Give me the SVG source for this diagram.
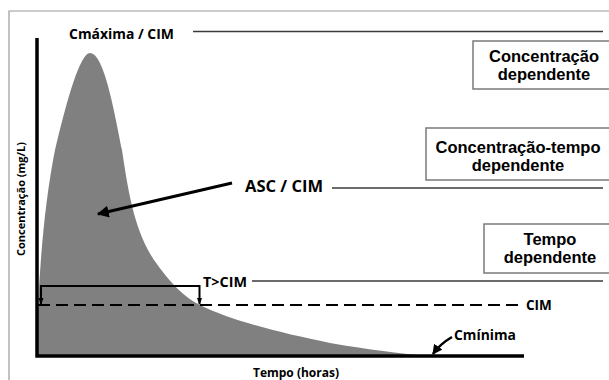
<svg xmlns="http://www.w3.org/2000/svg" width="609" height="380" viewBox="0 0 609 380">
<defs>
<style>
.lbl{font-family:"Open Sans","Liberation Sans",sans-serif;font-weight:700;fill:#000}
.box rect{fill:#fff;stroke:#7a7a7a;stroke-width:1.5}
.box text{font-family:"Liberation Sans",Arial,sans-serif;font-weight:700;font-size:16.5px;fill:#000;text-anchor:middle}
.ref{stroke:#3a3a3a;stroke-width:1.3;fill:none}
.axis{stroke:#000;stroke-width:3.5;fill:none}
</style>
<marker id="ah" viewBox="0 0 10 10" refX="9" refY="5" markerWidth="4" markerHeight="4" orient="auto" markerUnits="strokeWidth">
<path d="M0,0 L10,5 L0,10 Z" fill="#000"/>
</marker>
</defs>
<rect width="609" height="380" fill="#fff"/>
<g id="frame">
<path d="M9,390 L9,11 L620,11" fill="none" stroke="#9a9a9a" stroke-width="1.2"/>
</g>
<g id="curve">
<path d="M37,356 L38,310 C40,260 45,200 55,150 C67,100 80,53 90,53 C104,53 114,110 122,150 C128,190 134,230 154,260 C170,283 185,298 200,305 C230,320 280,333 330,343 C370,350 400,353 425,356 Z" fill="#808080"/>
</g>
<g id="axes">
<path class="axis" d="M37,38 L37,356 L524,356"/>
<text class="lbl" font-size="11" transform="translate(25,199) rotate(-90)" text-anchor="middle">Concentração (mg/L)</text>
<text class="lbl" font-size="12" x="296" y="377" text-anchor="middle">Tempo (horas)</text>
</g>
<g id="cim-line">
<line x1="38" y1="305" x2="522" y2="305" stroke="#000" stroke-width="2" stroke-dasharray="12,6"/>
<text class="lbl" font-size="13.5" x="526" y="310">CIM</text>
</g>
<g id="labels">
<text class="lbl" font-size="13.5" x="69" y="39" textLength="105" lengthAdjust="spacingAndGlyphs">Cmáxima / CIM</text>
<text class="lbl" font-size="16.5" x="245" y="192" textLength="78" lengthAdjust="spacingAndGlyphs">ASC / CIM</text>
<text class="lbl" font-size="14" x="203" y="287" textLength="44" lengthAdjust="spacingAndGlyphs">T&gt;CIM</text>
<text class="lbl" font-size="14" x="454" y="340" textLength="62" lengthAdjust="spacingAndGlyphs">Cmínima</text>
</g>
<g id="box-concentracao" class="box">
<rect x="473" y="41" width="150" height="48"/>
<text x="544" y="62">Concentração</text>
<text x="544" y="80">dependente</text>
</g>
<g id="box-concentracao-tempo" class="box">
<rect x="426" y="128" width="190" height="52"/>
<text x="518" y="153">Concentração-tempo</text>
<text x="518" y="171">dependente</text>
</g>
<g id="box-tempo" class="box">
<rect x="484" y="224" width="140" height="49"/>
<text x="550" y="245">Tempo</text>
<text x="550" y="263">dependente</text>
</g>
<g id="connectors">
<line class="ref" x1="193" y1="31.5" x2="603" y2="31.5"/>
<line class="ref" x1="332" y1="188" x2="603" y2="188"/>
<line class="ref" x1="252" y1="281" x2="603" y2="281"/>
<line x1="232" y1="183" x2="98" y2="214" stroke="#000" stroke-width="3" marker-end="url(#ah)"/>
<path d="M41,304 L41,286 L199.5,286 L199.5,304" fill="none" stroke="#000" stroke-width="2"/>
<path d="M38.5,298 L43.5,298 L41,305 Z" fill="#000"/>
<path d="M197,298 L202,298 L199.5,305 Z" fill="#000"/>
<path d="M452,337 Q440,344 433,354" fill="none" stroke="#000" stroke-width="2.5" marker-end="url(#ah)"/>
</g>
</svg>
